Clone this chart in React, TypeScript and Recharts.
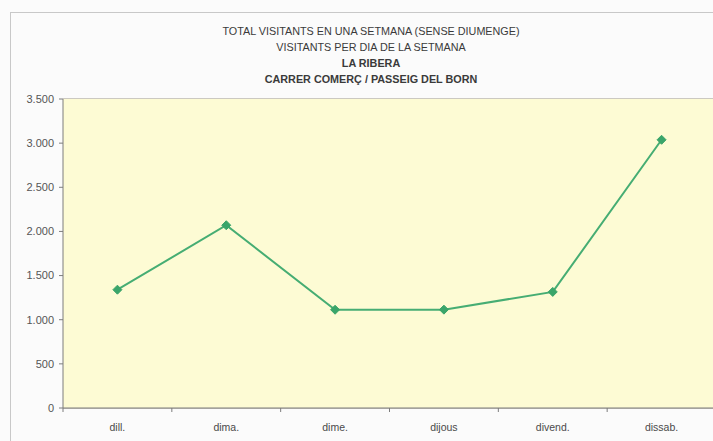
import React from 'react';
import { LineChart, Line, XAxis, YAxis, CartesianGrid } from 'recharts';

const days = ['dill.', 'dima.', 'dime.', 'dijous', 'divend.', 'dissab.'];
const visitants = [1340, 2070, 1113, 1114, 1315, 3038];
const yTicks = [0, 500, 1000, 1500, 2000, 2500, 3000, 3500];
const titleLines = [
  'TOTAL VISITANTS EN UNA SETMANA (SENSE DIUMENGE)',
  'VISITANTS PER DIA DE LA SETMANA',
  'LA RIBERA',
  'CARRER COMERÇ / PASSEIG DEL BORN',
];
const boldLines = [false, false, true, true];

const data = days.map((d, i) => ({ idx: i, day: d, v: visitants[i] }));
const catTicks = days.map((_, i) => i);
const boundaryTicks = [-0.5, 0.5, 1.5, 2.5, 3.5, 4.5, 5.5];

const fmt = (n: number) => n.toLocaleString('de-DE');

const Diamond = (props: any) => {
  const { cx, cy } = props;
  if (cx == null || cy == null) return null;
  const r = 4.5;
  return (
    <path
      d={`M${cx},${cy - r} L${cx + r},${cy} L${cx},${cy + r} L${cx - r},${cy} Z`}
      fill="#3aa56a"
      stroke="#3aa56a"
    />
  );
};

export default function App() {
  return (
    <div
      style={{
        position: 'absolute',
        left: 0,
        top: 0,
        width: 713,
        height: 441,
        background: '#fbfbfb',
        overflow: 'hidden',
        fontFamily: '"Liberation Sans", Arial, sans-serif',
      }}
    >
      <div
        style={{
          position: 'absolute',
          left: 10,
          top: 12,
          width: 720,
          height: 440,
          border: '1px solid #c8c8c8',
          boxSizing: 'border-box',
        }}
      />
      <div style={{ position: 'absolute', left: 0, top: 23, width: 742, textAlign: 'center' }}>
        {titleLines.map((t, i) => (
          <div
            key={i}
            style={{
              fontSize: 10.8,
              lineHeight: '16px',
              height: 16,
              color: '#3a3a3a',
              fontWeight: boldLines[i] ? 'bold' : 'normal',
              whiteSpace: 'nowrap',
            }}
          >
            {t}
          </div>
        ))}
      </div>
      <div style={{ position: 'absolute', left: 0, top: 0 }}>
        <LineChart
          width={713}
          height={441}
          data={data}
          margin={{ top: 99, right: -3, bottom: 3, left: 3 }}
        >
          <rect x={63} y={99} width={660} height={309} fill="#fdfbd4" />
          <CartesianGrid vertical={false} stroke="#9d9686" strokeWidth={1} />
          <XAxis
            xAxisId="a_marks"
            dataKey="idx"
            type="number"
            domain={[-0.5, 5.5]}
            ticks={boundaryTicks}
            tickFormatter={() => ''}
            tickSize={4}
            height={1}
            interval={0}
            axisLine={{ stroke: '#7d7d7d' }}
            tickLine={{ stroke: '#7d7d7d' }}
          />
          <XAxis
            xAxisId="b_labels"
            dataKey="idx"
            type="number"
            domain={[-0.5, 5.5]}
            ticks={catTicks}
            tickFormatter={(v: number) => days[v]}
            tickLine={false}
            axisLine={false}
            height={29}
            tickMargin={9}
            tick={{ fontSize: 10.5, fill: '#4a4a4a' }}
            interval={0}
          />
          <YAxis
            width={60}
            domain={[0, 3500]}
            ticks={yTicks}
            tickFormatter={fmt}
            tick={{ fontSize: 11, fill: '#555555' }}
            tickSize={4}
            tickMargin={5}
            axisLine={{ stroke: '#7d7d7d' }}
            tickLine={{ stroke: '#7d7d7d' }}
            interval={0}
          />
          <Line
            xAxisId="b_labels"
            dataKey="v"
            stroke="#46ad73"
            strokeWidth={2}
            dot={<Diamond />}
            activeDot={false}
            isAnimationActive={false}
          />
        </LineChart>
      </div>
    </div>
  );
}
